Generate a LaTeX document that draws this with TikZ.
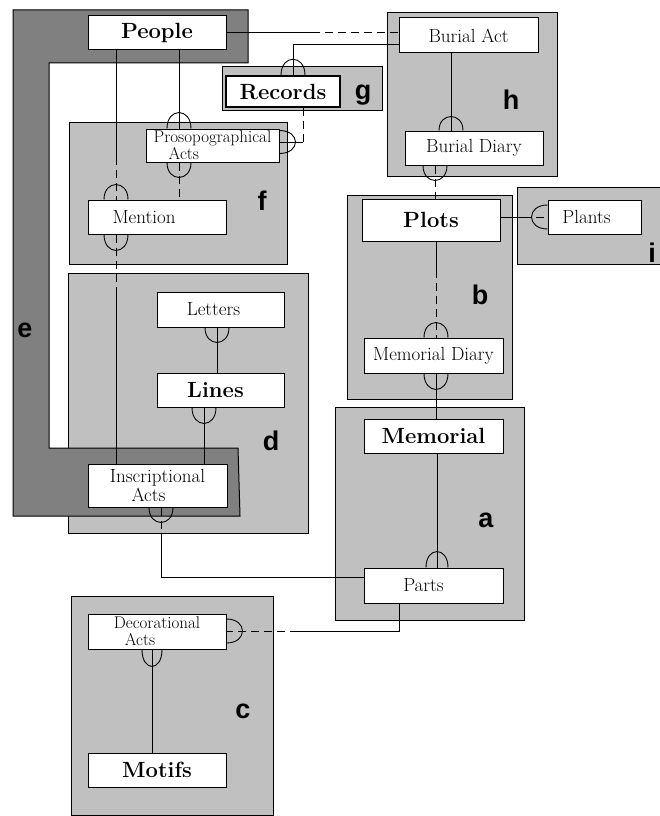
\documentclass[tikz,border=0pt]{standalone}
\usepackage{fontspec}
\newfontfamily\lblfont{Liberation Sans}
\usetikzlibrary{calc}
\definecolor{lgray}{RGB}{192,192,192}
\definecolor{dgray}{RGB}{128,128,128}
\newcommand{\myarchN}[3]{\draw[conn] ($(#1)+(-#2,0)$) .. controls +(0,-1.33*#3) and +(0,-1.33*#3) .. ($(#1)+(#2,0)$);}
\newcommand{\myarchS}[3]{\draw[conn] ($(#1)+(-#2,0)$) .. controls +(0,1.33*#3) and +(0,1.33*#3) .. ($(#1)+(#2,0)$);}
\newcommand{\myarchE}[3]{\draw[conn] ($(#1)+(0,-#3)$) .. controls +(1.33*#2,0) and +(1.33*#2,0) .. ($(#1)+(0,#3)$);}
\newcommand{\myarchW}[3]{\draw[conn] ($(#1)+(0,-#3)$) .. controls +(-1.33*#2,0) and +(-1.33*#2,0) .. ($(#1)+(0,#3)$);}
\begin{document}
\begin{tikzpicture}[x=1pt,y=-1pt,
  region/.style={draw=black, fill=lgray, line width=1pt},
  ent/.style={draw=black, fill=white, line width=1pt, inner sep=0pt, font=\fontsize{19}{21}\selectfont},
  entb/.style={ent, font=\fontsize{22}{24}\selectfont\bfseries},
  conn/.style={line width=0.9pt},
  dconn/.style={conn, dash pattern=on 8pt off 5pt},
  lbl/.style={font=\lblfont\bfseries\fontsize{27}{27}\selectfont, anchor=base, inner sep=0pt}]
\useasboundingbox (0,0) rectangle (659,816);
% regions
\draw[region] (68,273) rectangle (308,533);
\draw[line width=1pt, fill=dgray] (13,10) -- (248,10) -- (248,63) -- (49,63) -- (49,448) -- (238,448) -- (240,516) -- (13,516) -- cycle;
\draw[region] (69,122) rectangle (287,264);
\draw[region] (222,67) rectangle (382,110);
\draw[region] (387,13) rectangle (557,176);
\draw[region] (347,195) rectangle (512,399);
\draw[region] (517,187) rectangle (664,264);
\draw[region] (335,407) rectangle (524,620);
\draw[region] (71,596) rectangle (273,815);
% labels
\node[lbl] (lf) at (262,210) {f};
\node[lbl] (lg) at (363,99) {g};
\node[lbl] (lh) at (511,109) {h};
\node[lbl] (li) at (652,262) {i};
\node[lbl] (lb) at (480,304) {b};
\node[lbl] (la) at (486,527) {a};
\node[lbl] (lc) at (243,718) {c};
\node[lbl] (ld) at (271,450) {d};
\node[lbl] (le) at (25,337) {e};
% entities
\node[entb, minimum width=138pt, minimum height=34pt] (people) at (157,33) {People};
\node[entb, line width=1.6pt, minimum width=114pt, minimum height=31pt] (records) at (283,91.5) {Records};
\node[ent, minimum width=133pt, minimum height=33pt, align=left, font=\fontsize{17}{17}\selectfont] (proso) at (212.5,145.5) {Prosopographical\\\hspace*{15pt}Acts};
\node[ent, minimum width=138pt, minimum height=34pt] (mention) at (157,217) {Mention\hspace*{26pt}};
\node[ent, minimum width=139pt, minimum height=35pt] (burialact) at (468.5,35.5) {Burial Act};
\node[ent, minimum width=138pt, minimum height=34pt] (burialdiary) at (474,148) {Burial Diary};
\node[entb, minimum width=138pt, minimum height=42pt] (plots) at (431,220) {Plots};
\node[ent, minimum width=93pt, minimum height=34pt] (plants) at (594.5,217) {Plants\hspace*{16pt}};
\node[ent, minimum width=139pt, minimum height=35pt] (memdiary) at (433.5,355.5) {Memorial Diary};
\node[entb, minimum width=139pt, minimum height=34pt] (memorial) at (433.5,436) {Memorial};
\node[ent, minimum width=139pt, minimum height=35pt] (parts) at (433.5,585.5) {Parts\hspace*{20pt}};
\node[ent, minimum width=127pt, minimum height=35pt] (letters) at (220.5,309.5) {Letters\hspace*{14pt}};
\node[entb, minimum width=127pt, minimum height=34pt] (lines) at (220.5,390) {Lines\hspace*{10pt}};
\node[ent, minimum width=139pt, minimum height=43pt, align=center, font=\fontsize{19}{19}\selectfont] (inscr) at (157.5,485.5) {Inscriptional\\Acts\hspace*{18pt}};
\node[ent, minimum width=138pt, minimum height=35pt, align=left, font=\fontsize{17}{17}\selectfont] (decor) at (157,631.5) {Decorational\\\hspace*{11pt}Acts};
\node[entb, minimum width=138pt, minimum height=34pt] (motifs) at (157,770) {Motifs};
% connector helper coordinates
\coordinate (c1) at (116,157);
\coordinate (c2) at (116,290);
\coordinate (c3) at (179,0);
\coordinate (c5) at (303,142);
\coordinate (c6) at (293,44);
\coordinate (c7) at (312,32);
\coordinate (c8) at (451,0);
\coordinate (c9) at (435,0);
\coordinate (c10) at (523,217);
\coordinate (c11) at (436,270);
\coordinate (c13) at (437,0);
\coordinate (c14) at (217,0);
\coordinate (c15) at (204,0);
\coordinate (c16) at (161,538);
\coordinate (c16b) at (161,577);
\coordinate (c17) at (399,631);
\coordinate (c17b) at (298,631);
\coordinate (c18) at (152,0);
% connectors
\draw[conn] (people.south -| c1) -- (c1);
\draw[dconn] (c1) -- (mention.north -| c1);
\myarchN{mention.north -| c1}{12}{15}
\draw[dconn] (mention.south -| c2) -- (c2);
\draw[conn] (c2) -- (inscr.north -| c2);
\myarchS{mention.south -| c2}{12}{16}
\draw[conn] (people.south -| c3) -- (proso.north -| c3);
\myarchN{proso.north -| c3}{12}{16}
\draw[dconn] (proso.south -| c3) -- (mention.north -| c3);
\myarchS{proso.south -| c3}{12}{15}
\draw[dconn] (records.south -| c5) -- (c5);
\draw[conn] (c5) -- (proso.east |- c5);
\myarchE{proso.east |- c5}{16}{11.5}
\draw[conn] (burialact.west |- c6) -- (c6) -- (records.north -| c6);
\myarchN{records.north -| c6}{12}{16}
\draw[conn] (people.east |- c7) -- (c7);
\draw[dconn] (c7) -- (burialact.west |- c7);
\draw[conn] (burialact.south -| c8) -- (burialdiary.north -| c8);
\myarchN{burialdiary.north -| c8}{12}{14}
\draw[dconn] (burialdiary.south -| c9) -- (plots.north -| c9);
\myarchS{burialdiary.south -| c9}{12}{15}
\draw[conn] (plots.east |- c10) -- (c10);
\draw[dconn] (c10) -- (plants.west |- c10);
\myarchW{plants.west |- c10}{16}{12}
\draw[conn] (plots.south -| c11) -- (c11);
\draw[dconn] (c11) -- (memdiary.north -| c11);
\myarchN{memdiary.north -| c11}{12}{15}
\draw[conn] (memdiary.south -| c11) -- (memorial.north -| c11);
\myarchS{memdiary.south -| c11}{12}{16}
\draw[conn] (memorial.south -| c13) -- (parts.north -| c13);
\myarchN{parts.north -| c13}{11}{16}
\draw[conn] (letters.south -| c14) -- (lines.north -| c14);
\myarchS{letters.south -| c14}{12}{15}
\draw[conn] (lines.south -| c15) -- (inscr.north -| c15);
\myarchS{lines.south -| c15}{12}{16}
\draw[dconn] (inscr.south -| c16) -- (c16);
\draw[conn] (c16) -- (c16b) -- (parts.west |- c16b);
\myarchS{inscr.south -| c16}{12}{15}
\draw[conn] (parts.south -| c17) -- (c17) -- (c17b);
\draw[dconn] (c17b) -- (decor.east |- c17b);
\myarchE{decor.east |- c17b}{16}{12}
\draw[conn] (decor.south -| c18) -- (motifs.north -| c18);
\myarchS{decor.south -| c18}{10}{17}
\end{tikzpicture}
\end{document}
